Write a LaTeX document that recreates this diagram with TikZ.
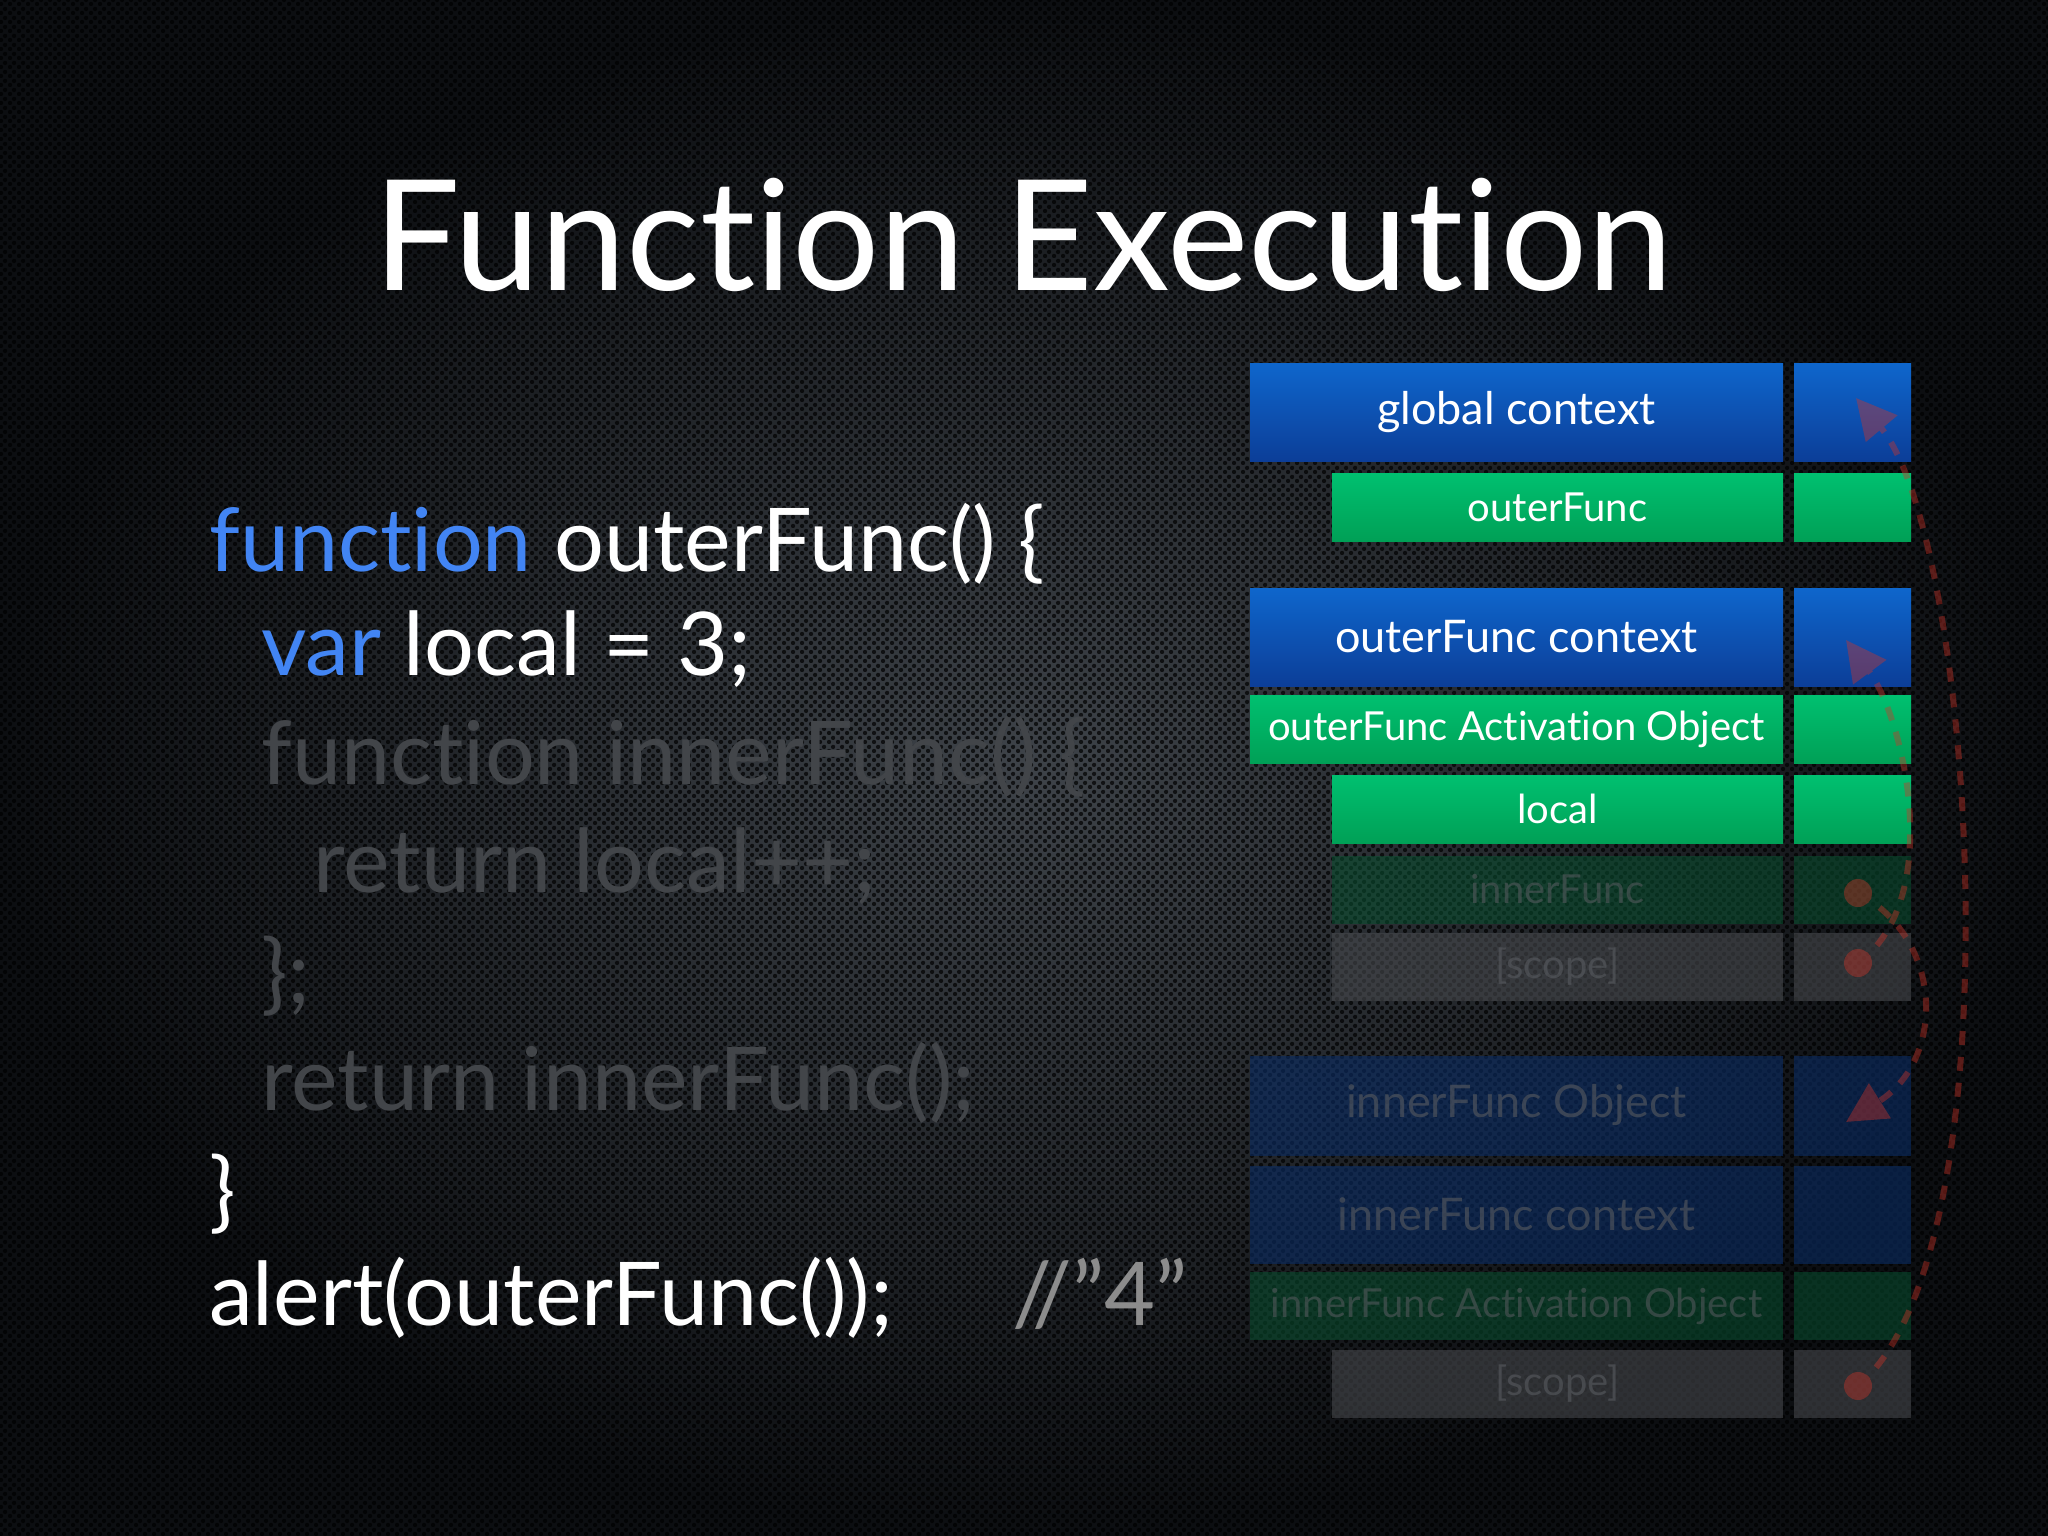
\documentclass[tikz,border=0pt]{standalone}
\usepackage{fontspec}
\setmainfont{Lato}[Ligatures={NoCommon,NoRequired}]
\usetikzlibrary{arrows.meta,patterns}
\pgfdeclarepatternformonly{holes}{\pgfqpoint{0pt}{0pt}}{\pgfqpoint{9pt}{9pt}}{\pgfqpoint{9pt}{9pt}}{%
  \pgfpathcircle{\pgfqpoint{2.25pt}{2.25pt}}{2.4pt}%
  \pgfpathcircle{\pgfqpoint{6.75pt}{6.75pt}}{2.4pt}%
  \pgfusepath{fill}}
\definecolor{bgmid}{RGB}{62,67,73}
\definecolor{bgedge}{RGB}{12,14,17}
\definecolor{kwblue}{RGB}{66,133,244}
\definecolor{fadecode}{RGB}{66,69,73}
\definecolor{commentgray}{RGB}{140,140,140}
\definecolor{bluetop}{RGB}{14,102,204}
\definecolor{bluebot}{RGB}{12,62,152}
\definecolor{greentop}{RGB}{0,192,112}
\definecolor{greenbot}{RGB}{0,160,86}
\definecolor{fgreen}{RGB}{8,80,48}
\definecolor{fblue}{RGB}{10,44,100}
\definecolor{fgray}{RGB}{70,72,76}
\definecolor{fadetext}{RGB}{88,91,96}
\definecolor{chainred}{RGB}{208,52,40}
\tikzset{
  codeline/.style={anchor=base west, inner sep=0pt, text=white, font=\fontsize{88}{90}\selectfont},
  fadeline/.style={codeline, text=fadecode},
  boxbase/.style={rectangle, inner sep=0pt, draw=none, text=white},
  tallbox/.style={boxbase, minimum height=98pt, font=\fontsize{45}{46}\selectfont},
  thinbox/.style={boxbase, minimum height=68pt, font=\fontsize{40}{41}\selectfont},
  widebox/.style={minimum width=533pt},
  narrowbox/.style={minimum width=451pt},
  cellbox/.style={minimum width=117pt},
  bluefill/.style={top color=bluetop, bottom color=bluebot},
  greenfill/.style={top color=greentop, bottom color=greenbot},
  fadegreen/.style={fill=fgreen, fill opacity=0.55, text=fadetext},
  fadeblue/.style={fill=fblue, fill opacity=0.6, text=fadetext},
  fadegray/.style={fill=fgray, fill opacity=0.6, text=fadetext},
  chaindot/.style={circle, fill=chainred, inner sep=0pt, minimum size=28pt},
  chainline/.style={draw=chainred, line width=6pt, dash pattern=on 14pt off 12pt,
    -{Triangle[length=40pt,width=40pt]}},
}
\begin{document}
\begin{tikzpicture}[x=1pt,y=-1pt]
\useasboundingbox (0,0) rectangle (2048,1536);
\shade[inner color=bgmid, outer color=bgedge] (0,0) rectangle (2048,1536);
\fill[pattern=holes, pattern color=black, fill opacity=0.7] (0,0) rectangle (2048,1536);

% title
\node[anchor=base, inner sep=0pt, text=white, font=\fontsize{154}{156}\selectfont] (title) at (1023,290) {Function Execution};

% code
\node[codeline] (c1) at (209,571) {\textcolor{kwblue}{function} outerFunc() \{};
\node[codeline] (c2) at (261,675) {\textcolor{kwblue}{var} local = 3;};
\node[fadeline] (c3) at (261,784) {function innerFunc() \{};
\node[fadeline] (c4) at (313,892) {return local++;};
\node[fadeline] (c5) at (261,1003) {\};};
\node[fadeline] (c6) at (261,1110) {return innerFunc();};
\node[codeline] (c7) at (209,1221) {\}};
\node[codeline] (c8) at (209,1325) {alert(outerFunc());};
\node[codeline, text=commentgray] (c9) at (1012,1325) {//”4”};

% stack, main column
\node[tallbox, widebox, bluefill] (gc) at (1516.5,412) {global context};
\node[thinbox, narrowbox, greenfill] (of) at (1557.5,507) {outerFunc};
\node[tallbox, widebox, bluefill] (oc) at (1516.5,637) {outerFunc context};
\node[thinbox, widebox, greenfill] (oa) at (1516.5,729) {outerFunc Activation Object};
\node[thinbox, narrowbox, greenfill] (lo) at (1557.5,809) {local};
\node[thinbox, narrowbox, fadegreen] (inf) at (1557.5,889.5) {innerFunc};
\node[thinbox, narrowbox, fadegray] (sc1) at (1557.5,967) {[scope]};
\node[tallbox, widebox, fadeblue, minimum height=100pt] (io) at (1516.5,1105.5) {innerFunc Object};
\node[tallbox, widebox, fadeblue] (ic) at (1516.5,1214.5) {innerFunc context};
\node[thinbox, widebox, fadegreen] (ia) at (1516.5,1306) {innerFunc Activation Object};
\node[thinbox, narrowbox, fadegray] (sc2) at (1557.5,1383.5) {[scope]};

% stack, value column
\node[tallbox, cellbox, bluefill] (gcR) at (1852.5,412) {};
\node[thinbox, cellbox, greenfill] (ofR) at (1852.5,507) {};
\node[tallbox, cellbox, bluefill] (ocR) at (1852.5,637) {};
\node[thinbox, cellbox, greenfill] (oaR) at (1852.5,729) {};
\node[thinbox, cellbox, greenfill] (loR) at (1852.5,809) {};
\node[thinbox, cellbox, fadegreen] (infR) at (1852.5,889.5) {};
\node[thinbox, cellbox, fadegray] (sc1R) at (1852.5,967) {};
\node[tallbox, cellbox, fadeblue, minimum height=100pt] (ioR) at (1852.5,1105.5) {};
\node[tallbox, cellbox, fadeblue] (icR) at (1852.5,1214.5) {};
\node[thinbox, cellbox, fadegreen] (iaR) at (1852.5,1306) {};
\node[thinbox, cellbox, fadegray] (sc2R) at (1852.5,1383.5) {};

% scope chain pointers (faded, drawn as one transparency group)
\begin{scope}[transparency group, opacity=0.4]
\coordinate (tipG) at (1856,398);
\coordinate (tipO) at (1846,640);
\coordinate (tipI) at (1846,1122);
\node[chaindot] (dInner) at (1858,893) {};
\node[chaindot] (dScope1) at (1858,963) {};
\node[chaindot] (dScope2) at (1858,1386) {};
\draw[chainline] (dScope2.center) .. controls (2020,1250) and (1975,540) .. (tipG);
\draw[chainline] (dScope1.center) .. controls (1945,900) and (1905,720) .. (tipO);
\draw[chainline] (dInner.center) .. controls (1945,940) and (1945,1060) .. (tipI);
\end{scope}
\end{tikzpicture}
\end{document}
